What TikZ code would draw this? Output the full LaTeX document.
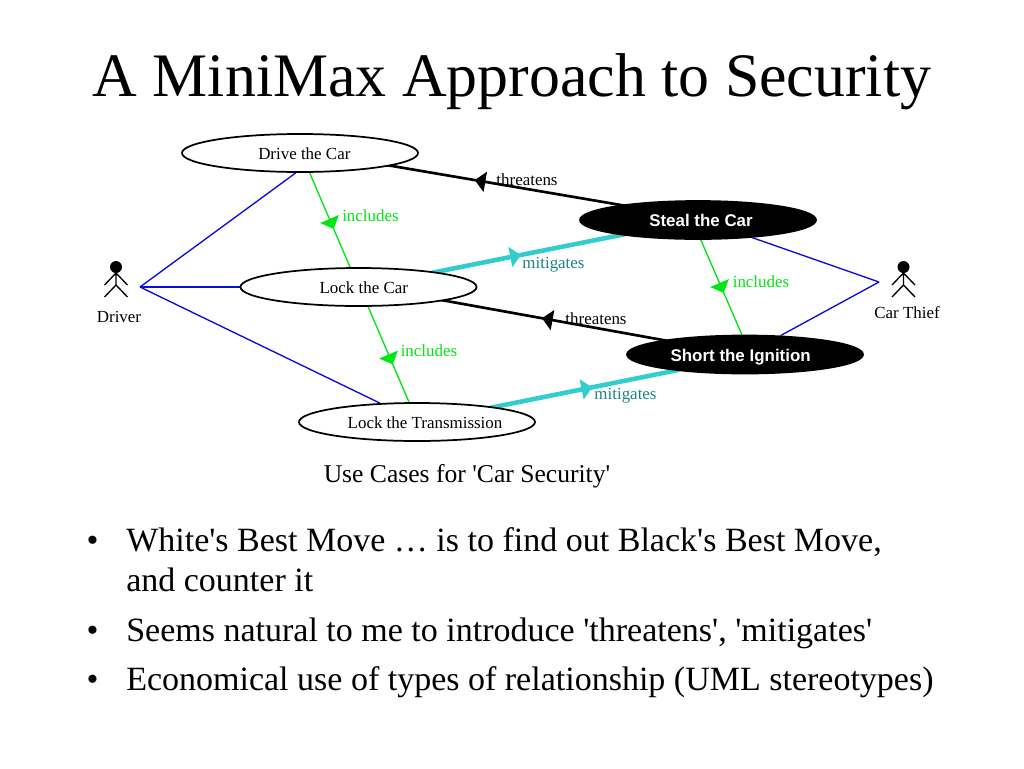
\documentclass[tikz,border=0pt]{standalone}
\usepackage{fontspec}
\setmainfont{Liberation Serif}
\newfontfamily\helv{Liberation Sans}
\usepackage{xcolor}
\usetikzlibrary{arrows.meta}
\usetikzlibrary{shapes.geometric}
\usetikzlibrary{decorations.markings}
\usetikzlibrary{backgrounds}
\definecolor{incgreen}{RGB}{0,230,20}
\definecolor{mitcyan}{RGB}{50,205,205}
\definecolor{mitteal}{RGB}{30,130,130}
\definecolor{linkblue}{RGB}{10,10,225}
\newcommand{\qs}{\textquotesingle}
\newcommand{\shifted}[2]{\makebox[0pt]{\hspace{#1}#2}}

\begin{document}
\begin{tikzpicture}[x=0.75pt, y=-0.75pt,
    usecase/.style={ellipse, draw=black, line width=1.3pt, fill=white, inner sep=0pt,
      minimum width=177pt, minimum height=28.5pt, text height=10.8pt, text depth=1pt,
      font=\fontsize{12.7}{15}\selectfont},
    misuse/.style={usecase, fill=black, text=white, font=\helv\bfseries\fontsize{12.7}{15}\selectfont},
    midtip/.style={postaction={decorate}, decoration={markings,
      mark=at position #1 with {\arrow{Triangle[width=15pt, length=8pt]}}}},
    assoc/.style={draw=linkblue, line width=1pt},
    includes/.style={draw=incgreen, line width=1pt, incgreen},
    threatens/.style={draw=black, line width=2pt, shorten <=-3pt, shorten >=-3pt},
    mitigates/.style={draw=mitcyan, line width=3.4pt, mitcyan, shorten <=-3pt, shorten >=-3pt},
    tag/.style={inner sep=0pt, anchor=base, font=\fontsize{12.7}{15}\selectfont},
    bullet/.style={inner sep=0pt, anchor=base west, font=\fontsize{25.5}{30}\selectfont}]
    \useasboundingbox (0,0) rectangle (1024,768);

    \node[inner sep=0pt, anchor=base, font=\fontsize{46.4}{50}\selectfont] (title) at (512,96)
      {A MiniMax Approach to Security};

    \node[usecase] (drive) at (300,153) {\shifted{6.5pt}{Drive the Car}};
    \node[usecase] (lock) at (358.5,287) {\shifted{8pt}{Lock the Car}};
    \node[usecase] (trans) at (417,422) {\shifted{12pt}{Lock the Transmission}};
    \node[misuse] (steal) at (698,220) {\shifted{4.5pt}{Steal the Car}};
    \node[misuse] (short) at (745,354.5) {\shifted{-6.5pt}{Short the Ignition}};

    \foreach \actor/\ax in {driver/116, thief/903.5}{
      \begin{scope}[shift={(\ax,267)}, line width=1pt]
        \fill (0,0) circle[radius=4.5pt];
        \draw (0,6) -- (0,18) (-11.5,18) -- (0,6) -- (11.5,18)
        (-11.5,30) -- (0,18) -- (11.5,30);
      \end{scope}
    }
    \node[tag] (driverlabel) at (119,322) {Driver};
    \node[tag] (thieflabel) at (907,318) {Car Thief};
    \coordinate (driverhub) at (140,287);
    \coordinate (thiefhub) at (879,282);

    \begin{scope}[on background layer]
      \fill[white] (0,0) rectangle (1024,768);
      \draw[assoc] (driverhub) -- (drive.-102);
      \draw[assoc] (driverhub) -- (lock.west);
      \draw[assoc] (driverhub) -- (trans.153.4);
      \draw[assoc] (thiefhub) -- (steal.-18.1);
      \draw[assoc] (thiefhub) -- (short.28.4);

      \draw[includes, midtip=0.594] (drive.-64.7) -- (lock.113.5);
      \draw[includes, midtip=0.604] (lock.-64) -- (trans.112.8);
      \draw[includes, midtip=0.56] (steal.-82.3) -- (short.99.6);
      \draw[threatens, midtip=0.635] (steal.169.8) -- (drive.-8.7);
      \draw[threatens, midtip=0.555] (short.170) -- (lock.-9.9);
      \draw[mitigates, midtip=0.46] (lock.11.5) -- (steal.-169.1);
      \draw[mitigates, midtip=0.54] (trans.11.3) -- (short.-167.6);
    \end{scope}

    \node[tag, text=black] (threat1) at (527,185) {threatens};
    \node[tag, text=black] (threat2) at (596,324) {threatens};
    \node[tag, text=incgreen] (inc1) at (370.5,221) {includes};
    \node[tag, text=incgreen] (inc2) at (429,356) {includes};
    \node[tag, text=incgreen] (inc3) at (761,287) {includes};
    \node[tag, text=mitteal] (mit1) at (553.5,268) {mitigates};
    \node[tag, text=mitteal] (mit2) at (625.5,399) {mitigates};

    \node[inner sep=0pt, anchor=base, font=\fontsize{19.2}{23}\selectfont] (caption) at (467,482)
      {Use Cases for \qs Car Security\qs};

    \foreach \by/\btext/\bname in {{551/White\qs s Best Move … is to find out Black\qs s Best Move,/one},
      {641/Seems natural to me to introduce \qs threatens\qs, \qs mitigates\qs/two},
      {690/Economical use of types of relationship (UML stereotypes)/three}}{
      \node[inner sep=0pt, anchor=base, font=\fontsize{25.5}{30}\selectfont] (dot\bname) at (92.5,\by) {•};
      \node[bullet] (line\bname) at (126,\by) {\btext};
    }
    \node[bullet] (linemore) at (126,591) {and counter it};
\end{tikzpicture}
\end{document}
